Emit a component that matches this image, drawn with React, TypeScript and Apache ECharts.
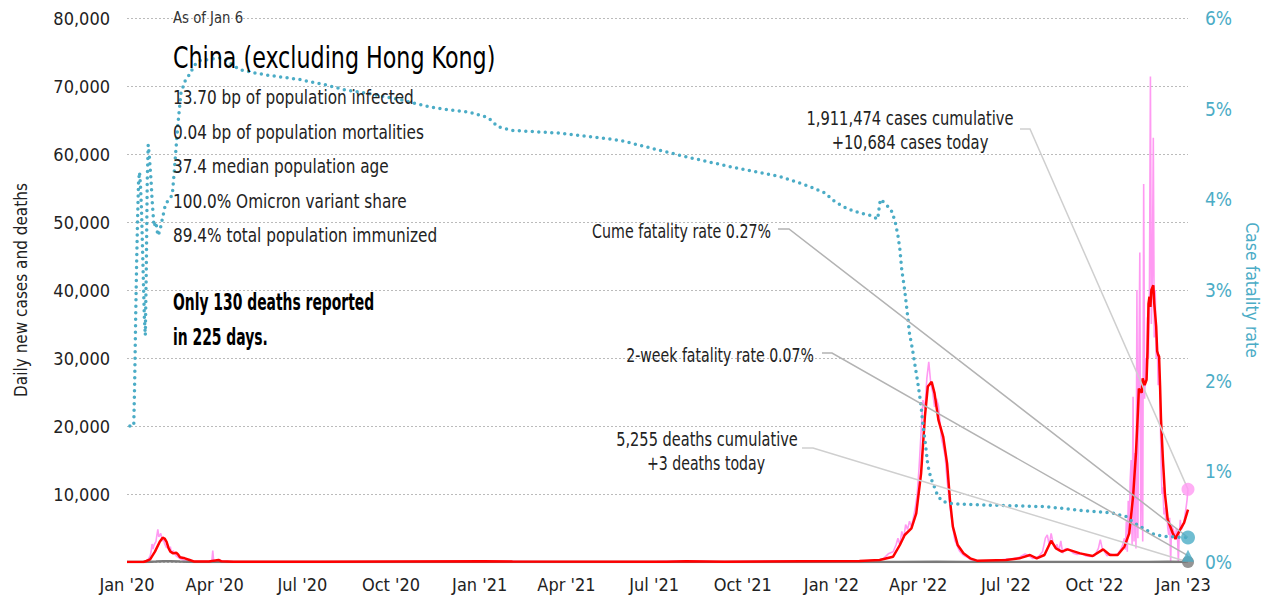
import React, { useEffect, useRef } from "react";
import * as echarts from "echarts";

const FONT = "'DejaVu Sans Condensed', 'Liberation Sans Narrow', 'Roboto', sans-serif";
const TEAL = "#4bacc6";
const PINK = "#ff9af2";
const RED = "#ff0000";
const GRAY = "#7a7a7a";

// x values are day offsets from 2020-01-01
const START_DATE = "2020-01-01";
const LAST_DAY = 1101; // 2023-01-06
const quarterDays = [0, 91, 182, 274, 366, 456, 547, 639, 731, 821, 912, 1004, 1096];
const quarterLabels = ["Jan '20", "Apr '20", "Jul '20", "Oct '20", "Jan '21", "Apr '21", "Jul '21", "Oct '21", "Jan '22", "Apr '22", "Jul '22", "Oct '22", "Jan '23"];

// daily new cases (pink)
const dailyCases: [number, number][] = [
  [0, 0], [18, 0], [20, 100], [22, 400], [24, 900], [25, 1500], [26, 2650], [27, 1900], [28, 2500], [30, 3000],
  [31, 3900], [32, 4800], [33, 3700], [34, 3900], [35, 4200], [36, 3600], [37, 3100], [38, 3300], [39, 2700],
  [40, 2400], [41, 2100], [42, 2250], [43, 1900], [44, 1700], [45, 2250], [46, 1400], [47, 1200], [48, 1700],
  [49, 1300], [50, 1100], [51, 900], [52, 800], [54, 600], [56, 450], [58, 300], [60, 200], [62, 150], [65, 100],
  [70, 50], [80, 60], [88, 80], [89, 1670], [90, 100], [95, 300], [100, 100], [110, 50], [150, 30], [200, 20],
  [300, 30], [370, 120], [400, 80], [450, 20], [550, 60], [580, 130], [610, 30], [700, 150], [740, 100], [770, 200],
  [780, 300], [785, 500], [790, 1200], [795, 1500], [798, 2500], [800, 3500], [802, 2500], [804, 4500], [806, 3500],
  [808, 5500], [810, 4800], [812, 6000], [814, 5200], [816, 6500], [818, 8000], [820, 10000], [822, 14000],
  [824, 19000], [826, 23800], [828, 22500], [830, 27000], [832, 29450], [834, 26400], [836, 25000], [838, 22800],
  [840, 24000], [842, 23000], [844, 20000], [845, 18300], [847, 17000], [849, 15500], [851, 12000], [854, 8200],
  [856, 6000], [859, 3200], [862, 2200], [864, 1600], [868, 1000], [872, 700], [876, 300], [885, 150], [900, 200],
  [912, 400], [920, 500], [926, 700], [932, 1200], [936, 900], [940, 500], [946, 800], [950, 1500], [953, 3500],
  [955, 4000], [957, 2500], [959, 4200], [961, 2800], [963, 2000], [965, 2600], [967, 1600], [969, 3100],
  [971, 1300], [974, 2000], [978, 1800], [982, 1300], [986, 1100], [990, 1300], [995, 900], [1000, 800],
  [1004, 900], [1008, 2000], [1010, 3300], [1012, 2000], [1014, 1600], [1017, 900], [1020, 1200], [1024, 1000],
  [1028, 1200], [1031, 1800], [1033, 2400], [1035, 3500], [1036, 1800], [1037, 6000], [1038, 1500], [1039, 9000],
  [1040, 4000], [1041, 12000], [1042, 15000], [1043, 2500], [1044, 24300], [1045, 3000], [1046, 16000],
  [1047, 2000], [1048, 40000], [1049, 3500], [1050, 28000], [1051, 45500], [1052, 5000], [1053, 26000],
  [1054, 3000], [1055, 55600], [1056, 24000], [1057, 30000], [1058, 27000], [1059, 36000], [1060, 30000],
  [1061, 40000], [1062, 71400], [1063, 35000], [1064, 42000], [1065, 62400], [1066, 33000], [1067, 40000],
  [1068, 30000], [1069, 33000], [1070, 26000], [1071, 29000], [1072, 24000], [1073, 15000], [1074, 10000],
  [1075, 11000], [1076, 7000], [1077, 8000], [1078, 6000], [1079, 7500], [1080, 5000], [1081, 4000], [1082, 6500],
  [1083, 0], [1084, 5500], [1085, 5000], [1086, 4700], [1087, 4000], [1088, 3700], [1089, 5000], [1090, 4200],
  [1091, 0], [1092, 4300], [1093, 6200], [1094, 4800], [1095, 5000], [1096, 5500], [1097, 6000], [1098, 7000],
  [1099, 8000], [1100, 9100], [1101, 10684],
];

// 7-day average of new cases (red)
const avgCases: [number, number][] = [
  [0, 0], [17, 0], [20, 150], [24, 390], [29, 1520], [34, 2990], [37, 3580], [39, 3450], [41, 3000], [43, 2100],
  [45, 1520], [48, 1270], [51, 1370], [53, 1100], [55, 690], [60, 540], [65, 300], [70, 60], [85, 60], [90, 200],
  [95, 300], [98, 100], [110, 40], [200, 20], [370, 100], [400, 60], [560, 50], [580, 100], [620, 30], [700, 100],
  [760, 150], [781, 300], [795, 780], [802, 2500], [807, 3970], [814, 4950], [819, 7160], [824, 13000],
  [828, 21400], [831, 25800], [835, 26500], [838, 24800], [842, 20900], [847, 18400], [851, 14500], [854, 9100],
  [857, 5200], [862, 2500], [868, 1280], [875, 540], [882, 200], [912, 300], [926, 540], [937, 1030], [944, 540],
  [952, 1030], [959, 3130], [964, 2000], [970, 1520], [976, 1860], [989, 1270], [1002, 880], [1013, 1860],
  [1020, 1030], [1028, 1030], [1035, 2250], [1040, 4220], [1044, 9600], [1047, 16000], [1049, 22000],
  [1050, 25500], [1053, 24900], [1054, 27000], [1056, 26000], [1058, 26800], [1059, 31000], [1060, 38000],
  [1061, 39000], [1062, 37500], [1063, 40000], [1065, 40700], [1066, 38000], [1068, 34600], [1069, 31000],
  [1070, 30500], [1071, 30200], [1072, 26000], [1073, 20900], [1075, 15000], [1077, 10100], [1080, 6200],
  [1085, 4300], [1088, 3400], [1090, 4000], [1093, 4800], [1097, 5800], [1101, 7700],
];

// daily new deaths (gray)
const dailyDeaths: [number, number][] = [
  [0, 0], [20, 0], [30, 60], [38, 110], [45, 120], [55, 60], [70, 10], [100, 0], [800, 0], [840, 30], [870, 0],
  [1060, 10], [1080, 20], [1101, 3],
];

// case fatality rate, % (teal dotted, right axis)
const fatalityRate: [number, number][] = [
  [3, 1.5], [7, 1.5], [8, 2.0], [9, 2.7], [10, 3.3], [11, 3.8], [12, 4.2], [13, 4.3], [14, 4.15], [15, 3.9],
  [16, 3.5], [17, 3.1], [18, 2.7], [19, 2.5], [20, 3.2], [21, 4.2], [22, 4.6], [23, 4.5], [24, 4.35], [25, 4.2],
  [26, 4.0], [27, 3.85], [28, 3.7], [30, 3.75], [32, 3.6], [34, 3.65], [37, 3.8], [40, 3.95], [44, 4.0],
  [47, 4.05], [49, 4.3], [51, 4.58], [53, 4.85], [56, 5.17], [60, 5.3], [65, 5.38], [70, 5.48], [75, 5.53],
  [83, 5.54], [96, 5.56], [103, 5.53], [110, 5.48], [117, 5.43], [130, 5.4], [145, 5.37], [180, 5.32],
  [207, 5.26], [225, 5.21], [249, 5.17], [283, 5.1], [314, 5.02], [332, 4.99], [356, 4.96], [375, 4.9],
  [385, 4.8], [400, 4.76], [450, 4.73], [512, 4.65], [553, 4.54], [584, 4.46], [626, 4.36], [678, 4.25],
  [709, 4.14], [724, 4.07], [735, 3.97], [747, 3.9], [760, 3.85], [773, 3.82], [779, 3.78], [781, 3.95],
  [782, 4.0], [785, 3.97], [788, 3.94], [793, 3.88], [797, 3.76], [800, 3.6], [802, 3.45], [804, 3.22],
  [807, 3.0], [810, 2.72], [812, 2.52], [815, 2.35], [818, 2.15], [821, 1.95], [824, 1.72], [826, 1.5],
  [828, 1.35], [831, 1.07], [834, 0.93], [837, 0.85], [841, 0.74], [845, 0.68], [850, 0.655], [858, 0.64],
  [885, 0.63], [920, 0.62], [954, 0.61], [989, 0.57], [1023, 0.54], [1037, 0.5], [1044, 0.44], [1050, 0.4],
  [1058, 0.35], [1065, 0.31], [1072, 0.29], [1079, 0.28], [1090, 0.275], [1101, 0.27],
];

const todayCases = 10684;
const cumeFatality = 0.27;
const twoWeekFatality = 0.07;
const todayDeaths = 3;

const infoLines = [
  "13.70 bp of population infected",
  "0.04 bp of population mortalities",
  "37.4 median population age",
  "100.0% Omicron variant share",
  "89.4% total population immunized",
];
const boldLines = ["Only 130 deaths reported", "in 225 days."];

export default function App() {
  const ref = useRef<HTMLDivElement>(null);
  useEffect(() => {
    if (!ref.current) return;
    const chart = echarts.init(ref.current, null, { renderer: "svg" });
    const option: any = {
      animation: false,
      backgroundColor: "#fff",
      textStyle: { fontFamily: FONT },
      grid: { left: 127, right: 75, top: 18, bottom: 41, containLabel: false, outerBoundsMode: "none" },
      xAxis: {
        type: "value",
        min: 0,
        max: LAST_DAY,
        axisLine: { show: false },
        axisTick: { show: false },
        splitLine: { show: false },
        axisLabel: {
          customValues: quarterDays,
          formatter: (v: number) => {
            const i = quarterDays.indexOf(Math.round(v));
            return i >= 0 ? quarterLabels[i] : "";
          },
          fontFamily: FONT,
          fontSize: 18,
          color: "#222",
          margin: 13,
        },
      },
      yAxis: [
        {
          type: "value",
          min: 0,
          max: 80000,
          interval: 10000,
          name: "Daily new cases and deaths",
          nameLocation: "middle",
          nameRotate: 90,
          nameGap: 98,
          nameTextStyle: { fontFamily: FONT, fontSize: 17, color: "#222" },
          axisLine: { show: false },
          axisTick: { show: false },
          axisLabel: {
            fontFamily: FONT,
            fontSize: 18,
            color: "#222",
            margin: 17,
            showMinLabel: false,
            formatter: (v: number) => (v === 0 ? "" : v.toLocaleString("en-US")),
          },
          splitLine: { show: true, lineStyle: { color: "#bbb", type: [2, 2], width: 1 } },
        },
        {
          type: "value",
          min: 0,
          max: 6,
          interval: 1,
          position: "right",
          name: "Case fatality rate",
          nameLocation: "middle",
          nameRotate: -90,
          nameGap: 48,
          nameTextStyle: { fontFamily: FONT, fontSize: 17.5, color: TEAL },
          axisLine: { show: false },
          axisTick: { show: false },
          splitLine: { show: false },
          axisLabel: { fontFamily: FONT, fontSize: 19, color: TEAL, margin: 17, formatter: "{value}%" },
        },
      ],
      series: [
        {
          type: "line", name: "Daily cases", data: dailyCases, symbol: "none", z: 1,
          lineStyle: { color: PINK, width: 1.6 },
        },
        {
          type: "line", name: "Daily deaths", data: dailyDeaths, symbol: "none", z: 2,
          lineStyle: { color: GRAY, width: 2.5 },
        },
        {
          type: "line", name: "7-day average", data: avgCases, symbol: "none", z: 3,
          lineStyle: { color: RED, width: 2.5 },
        },
        {
          type: "line", name: "Case fatality rate", data: fatalityRate, yAxisIndex: 1, symbol: "none", z: 4,
          lineStyle: { color: TEAL, width: 3.5, type: [0, 6.5], cap: "round" },
        },
        {
          type: "scatter", data: [[LAST_DAY, todayCases]], symbol: "circle", symbolSize: 13, z: 6,
          itemStyle: { color: PINK }, silent: true,
        },
        {
          type: "scatter", data: [[LAST_DAY, todayDeaths]], symbol: "circle", symbolSize: 12, z: 6,
          itemStyle: { color: GRAY }, silent: true,
        },
        {
          type: "scatter", data: [[LAST_DAY, cumeFatality]], yAxisIndex: 1, symbol: "circle", symbolSize: 14, z: 6,
          itemStyle: { color: TEAL }, silent: true,
        },
        {
          type: "scatter", data: [[LAST_DAY, twoWeekFatality]], yAxisIndex: 1, symbol: "triangle", symbolSize: 12,
          z: 6, itemStyle: { color: TEAL }, silent: true,
        },
      ],
    };
    chart.setOption(option);

    const pCases = chart.convertToPixel({ xAxisIndex: 0, yAxisIndex: 0 }, [LAST_DAY, todayCases]) as number[];
    const pDeaths = chart.convertToPixel({ xAxisIndex: 0, yAxisIndex: 0 }, [LAST_DAY, todayDeaths]) as number[];
    const pCume = chart.convertToPixel({ xAxisIndex: 0, yAxisIndex: 1 }, [LAST_DAY, cumeFatality]) as number[];
    const pTwo = chart.convertToPixel({ xAxisIndex: 0, yAxisIndex: 1 }, [LAST_DAY, twoWeekFatality]) as number[];

    const txt = (text: string, x: number, y: number, size: number, sx: number, opts: any = {}) => ({
      type: "text",
      z: 10,
      x,
      y,
      scaleX: sx,
      style: {
        text,
        x: 0,
        y: 0,
        fill: opts.fill || "#222",
        font: `${opts.weight || "normal"} ${size}px ${FONT}`,
        textAlign: opts.align || "left",
        textVerticalAlign: "middle",
        verticalAlign: "middle",
      },
    });
    const leader = (pts: number[][], color: string) => ({
      type: "polyline",
      z: 5,
      shape: { points: pts },
      style: { stroke: color, lineWidth: 1.5, fill: "none" },
      silent: true,
    });

    const graphics: any[] = [
      txt("As of Jan 6", 173, 18, 16, 0.92, { fill: "#333" }),
      txt("China (excluding Hong Kong)", 173, 58, 30, 0.823, { fill: "#000" }),
      ...infoLines.map((l, i) => txt(l, 173, 97 + i * 34.5, 20, 0.85)),
      ...boldLines.map((l, i) => txt(l, 173, 302 + i * 35, 23, 0.672, { weight: "bold", fill: "#000" })),
      txt("1,911,474 cases cumulative", 910, 118, 20, 0.817, { align: "center" }),
      txt("+10,684 cases today", 910, 142, 20, 0.82, { align: "center" }),
      txt("Cume fatality rate 0.27%", 771, 231, 20, 0.79, { align: "right" }),
      txt("2-week fatality rate 0.07%", 814, 355, 20, 0.786, { align: "right" }),
      txt("5,255 deaths cumulative", 707, 439, 20, 0.81, { align: "center" }),
      txt("+3 deaths today", 706, 463, 20, 0.785, { align: "center" }),
      leader([[1020, 129], [1030, 129], pCases], "#cfcfcf"),
      leader([[778, 229], [789, 229], pCume], "#b3b3b3"),
      leader([[822, 353], [832, 353], pTwo], "#b3b3b3"),
      leader([[802, 448], [813, 448], pDeaths], "#cfcfcf"),
    ];
    chart.setOption({ graphic: graphics });

    return () => chart.dispose();
  }, []);
  return (
    <div
      ref={ref}
      style={{ position: "fixed", left: 0, top: 0, width: 1263, height: 603, background: "#fff" }}
    />
  );
}
